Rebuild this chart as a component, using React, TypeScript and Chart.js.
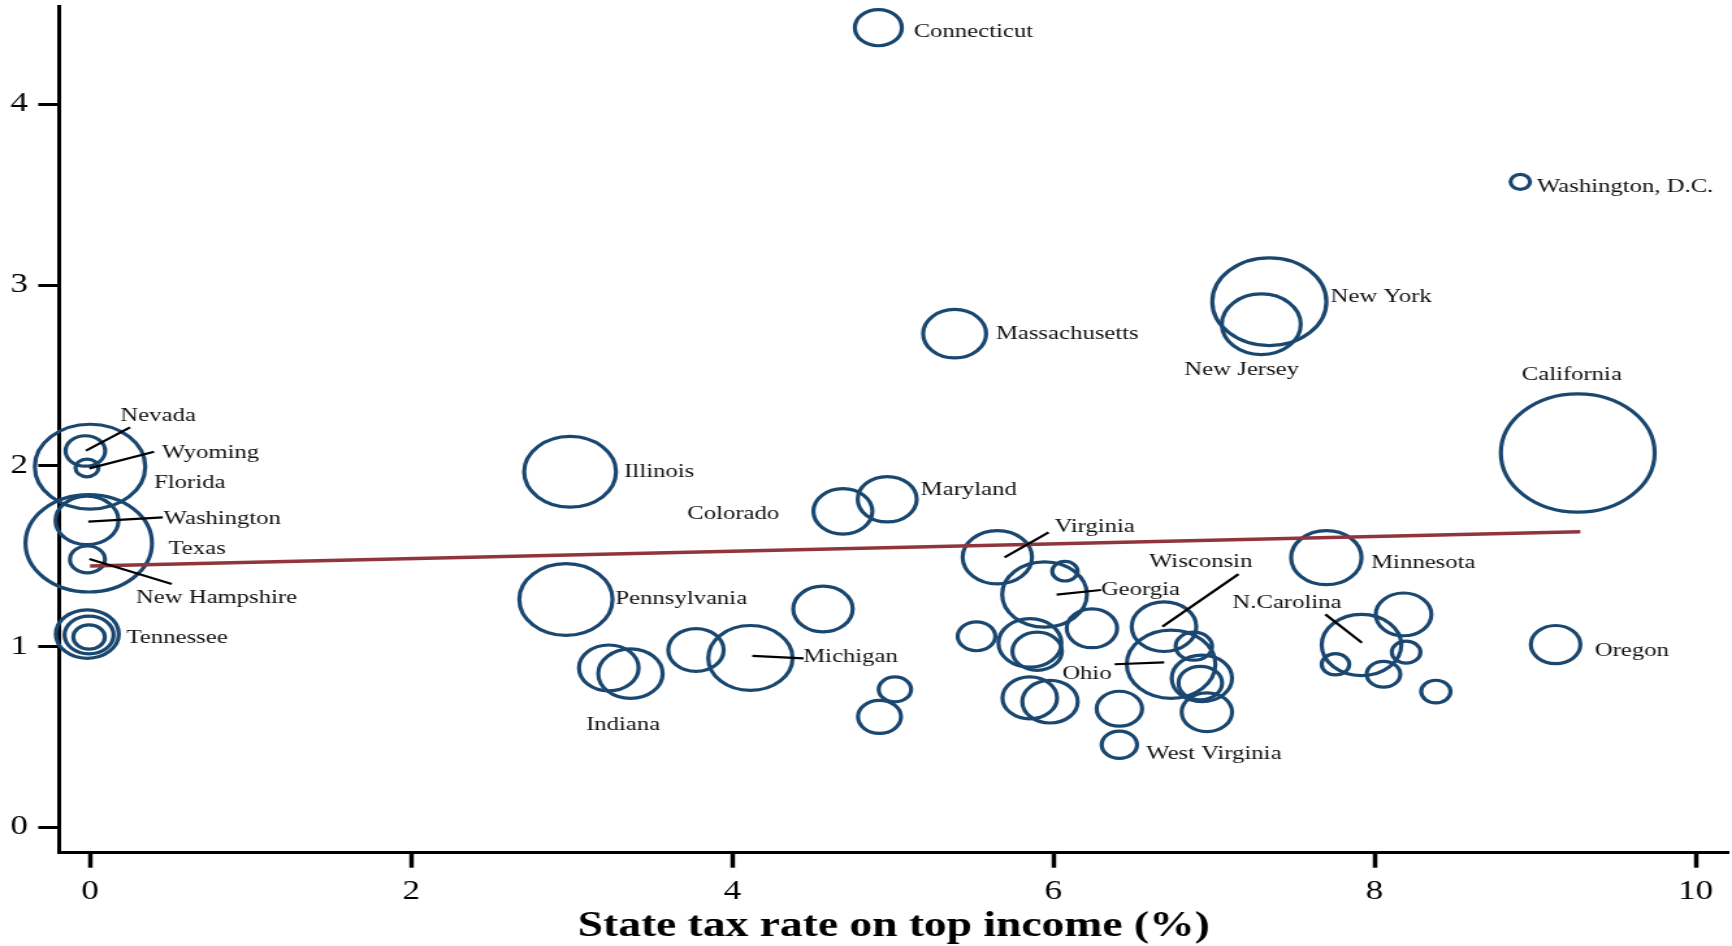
import { useEffect, useRef } from 'react';
import { Chart, registerables } from 'chart.js';

Chart.register(...registerables);

// ---- Data ----
// Bubble x: state tax rate on top income (%)
const taxRate = [
  4.910, 8.908, 7.345, 7.295, 5.385, 9.266,
  -0.029, -0.019, 0.0, -0.019, -0.008, -0.016, -0.017, -0.006, -0.006,
  2.990, 2.964, 4.689, 4.965, 5.651, 5.945, 6.072, 5.521, 5.854, 5.899,
  6.240, 5.853, 5.979, 6.411, 6.411, 6.689, 6.733, 6.875, 6.925, 6.915,
  6.956, 7.700, 7.919, 8.181, 8.197, 7.757, 8.056, 8.382, 9.128,
  3.231, 3.366, 3.774, 4.113, 4.565, 5.013, 4.917,
];
// Bubble y value
const yValue = [
  4.424, 3.571, 2.908, 2.783, 2.731, 2.071,
  2.082, 1.988, 1.995, 1.698, 1.571, 1.482, 1.069, 1.064, 1.053,
  1.967, 1.260, 1.748, 1.815, 1.494, 1.288, 1.417, 1.057, 1.020, 0.974,
  1.101, 0.716, 0.695, 0.656, 0.457, 1.110, 0.902, 1.002, 0.824, 0.798,
  0.637, 1.492, 1.009, 1.178, 0.969, 0.902, 0.847, 0.751, 1.011,
  0.882, 0.850, 0.981, 0.937, 1.208, 0.763, 0.611,
];
// Bubble weight (population, millions) -> bubble area
const weight = [
  3.48, 0.6, 20.5, 9.8, 6.25, 37.25,
  2.47, 0.83, 19.2, 6.25, 25.2, 1.93, 6.25, 3.78, 1.57,
  13.3, 13.7, 5.48, 5.48, 7.58, 11.3, 1.02, 2.23, 6.25, 3.87,
  4.0, 4.69, 4.83, 3.25, 1.97, 6.57, 12.36, 2.09, 5.74, 2.99,
  4.0, 7.8, 9.98, 4.87, 1.29, 1.2, 1.78, 1.36, 3.87,
  5.59, 6.53, 4.83, 11.2, 5.56, 1.65, 2.91,
];

// Fitted line
const trendX = [0, 9.282];
const trendY = [1.446, 1.635];

// Axis ticks
const xTicks = [0, 2, 4, 6, 8, 10];
const yTicks = [0, 1, 2, 3, 4];

// State labels (anchor in data units, text starts here)
const labelNames = [
  'Connecticut', 'Washington, D.C.', 'New York', 'New Jersey', 'Massachusetts', 'California',
  'Nevada', 'Wyoming', 'Florida', 'Washington', 'Texas', 'New Hampshire', 'Tennessee',
  'Illinois', 'Colorado', 'Maryland', 'Virginia', 'Pennsylvania', 'Georgia', 'Wisconsin',
  'Minnesota', 'N.Carolina', 'Michigan', 'Ohio', 'Oregon', 'Indiana', 'West Virginia',
];
const labelX = [
  5.130, 9.011, 7.727, 6.816, 5.642, 8.917,
  0.189, 0.447, 0.399, 0.458, 0.488, 0.286, 0.227,
  3.327, 3.720, 5.174, 6.007, 3.272, 6.296, 6.596,
  7.979, 7.115, 4.442, 6.055, 9.372, 3.089, 6.578,
];
const labelY = [
  4.400, 3.544, 2.933, 2.530, 2.731, 2.505,
  2.273, 2.071, 1.906, 1.705, 1.540, 1.271, 1.045,
  1.967, 1.735, 1.864, 1.662, 1.265, 1.314, 1.466,
  1.460, 1.240, 0.941, 0.849, 0.978, 0.568, 0.403,
];

// Leader lines (data units)
const leaderX1 = [0.249, 0.399, 0.453, -0.004, 5.970, 6.020, 7.153, 6.381, 7.694, 4.125];
const leaderY1 = [2.213, 2.078, 1.715, 1.484, 1.632, 1.287, 1.401, 0.902, 1.178, 0.949];
const leaderX2 = [-0.025, -0.004, -0.011, 0.509, 5.696, 6.297, 6.679, 6.690, 7.922, 4.444];
const leaderY2 = [2.084, 1.986, 1.691, 1.346, 1.494, 1.313, 1.110, 0.913, 1.021, 0.935];

// ---- Layout / style ----
const W = 1732;
const H = 946;
const STRETCH = 1.3; // the reference graph is stretched horizontally
const CW = Math.round(W / STRETCH);
const RK = 9.69; // px radius per sqrt(weight)
const FONT = '"Liberation Serif", "Times New Roman", serif';
const NAVY = '#1a476f';
const MAROON = '#90353b';

const labelPlugin = {
  id: 'stateLabels',
  afterDatasetsDraw(chart: any) {
    const { ctx, scales } = chart;
    const xs = scales.x;
    const ys = scales.y;
    ctx.save();
    ctx.strokeStyle = '#000';
    ctx.lineWidth = 2.2;
    for (let i = 0; i < leaderX1.length; i++) {
      ctx.beginPath();
      ctx.moveTo(xs.getPixelForValue(leaderX1[i]), ys.getPixelForValue(leaderY1[i]));
      ctx.lineTo(xs.getPixelForValue(leaderX2[i]), ys.getPixelForValue(leaderY2[i]));
      ctx.stroke();
    }
    ctx.font = `19px ${FONT}`;
    ctx.fillStyle = '#111';
    ctx.textAlign = 'left';
    ctx.textBaseline = 'middle';
    for (let i = 0; i < labelNames.length; i++) {
      ctx.fillText(labelNames[i], xs.getPixelForValue(labelX[i]), ys.getPixelForValue(labelY[i]));
    }
    ctx.restore();
  },
};

export default function App() {
  const ref = useRef<HTMLCanvasElement | null>(null);

  useEffect(() => {
    if (!ref.current) return;
    const bubbles = taxRate.map((v, i) => ({ x: v, y: yValue[i], r: RK * Math.sqrt(weight[i]) }));
    const trend = trendX.map((v, i) => ({ x: v, y: trendY[i] }));

    const chart = new Chart(ref.current, {
      type: 'bubble',
      data: {
        datasets: [
          {
            type: 'line',
            data: trend,
            borderColor: MAROON,
            borderWidth: 3.5,
            pointRadius: 0,
            fill: false,
            order: 0,
          } as any,
          {
            type: 'bubble',
            data: bubbles,
            backgroundColor: 'rgba(0,0,0,0)',
            borderColor: NAVY,
            borderWidth: 3.2,
            clip: false,
            order: 1,
          } as any,
        ],
      },
      options: {
        responsive: false,
        maintainAspectRatio: false,
        devicePixelRatio: 1,
        animation: false,
        events: [],
        layout: { autoPadding: false, padding: { left: 0, right: 2.8, top: 6, bottom: 0 } },
        plugins: {
          legend: { display: false },
          tooltip: { enabled: false },
        },
        scales: {
          x: {
            type: 'linear',
            min: -0.193,
            max: 10.204,
            afterBuildTicks: (s: any) => {
              s.ticks = xTicks.map((v) => ({ value: v }));
            },
            afterFit: (s: any) => {
              s.height = 93.3;
              s.paddingLeft = 0;
              s.paddingRight = 0;
            },
            grid: {
              display: true,
              drawOnChartArea: false,
              drawTicks: true,
              tickLength: 15,
              tickWidth: 3.5,
              tickColor: '#000',
            },
            border: { display: true, color: '#000', width: 3 },
            ticks: {
              color: '#000',
              font: { family: FONT, size: 27 },
              padding: 8,
              maxRotation: 0,
              autoSkip: false,
            },
            title: {
              display: true,
              text: 'State tax rate on top income (%)',
              color: '#000',
              font: { family: FONT, size: 35, weight: 'bold' },
              padding: { top: 0, bottom: -2 },
            },
          },
          y: {
            type: 'linear',
            min: -0.1405,
            max: 4.544,
            afterBuildTicks: (s: any) => {
              s.ticks = yTicks.map((v) => ({ value: v }));
            },
            afterFit: (s: any) => {
              s.width = 45.4;
              s.paddingTop = 0;
              s.paddingBottom = 0;
            },
            grid: {
              display: true,
              drawOnChartArea: false,
              drawTicks: true,
              tickLength: 16,
              tickWidth: 3,
              tickColor: '#000',
            },
            border: { display: true, color: '#000', width: 3 },
            ticks: {
              color: '#000',
              font: { family: FONT, size: 27 },
              padding: 8,
            },
          },
        },
      },
      plugins: [labelPlugin],
    });
    return () => chart.destroy();
  }, []);

  return (
    <div style={{ position: 'fixed', left: 0, top: 0, width: W, height: H, background: '#fff' }}>
      <canvas
        ref={ref}
        width={CW}
        height={H}
        style={{ width: `${W}px`, height: `${H}px`, display: 'block' }}
      />
    </div>
  );
}
